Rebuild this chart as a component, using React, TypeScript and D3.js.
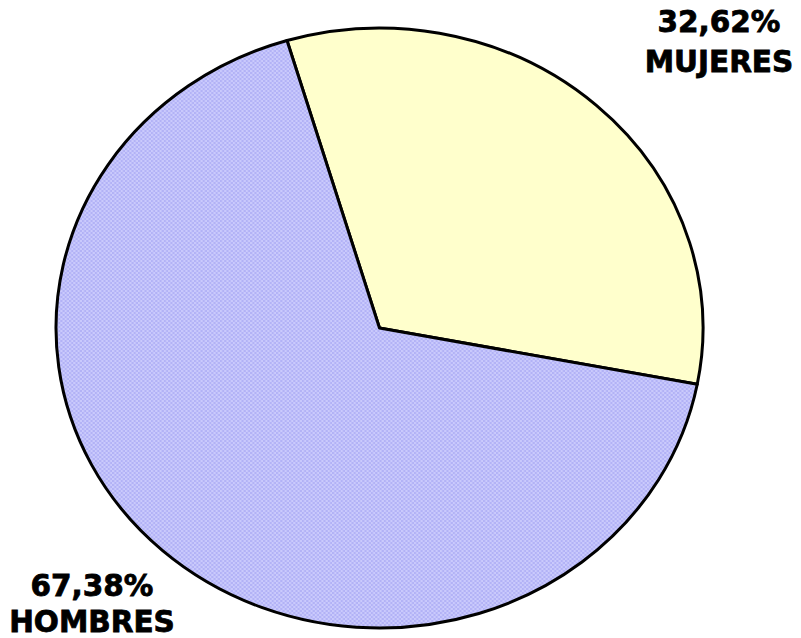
import React from 'react';
import * as d3 from 'd3';

const categories = ['MUJERES', 'HOMBRES'];
const values = [32.62, 67.38];
const valueLabels = ['32,62%', '67,38%'];

const W = 801;
const H = 638;
const cx = 379.5;
const cy = 328;
const rx = 323.5;
const ry = 300;

export default function App() {
  const pieFn = d3
    .pie<number>()
    .sort(null)
    .startAngle(-0.29)
    .endAngle(-0.29 + 2 * Math.PI);
  const arcFn = d3.arc<d3.PieArcDatum<number>>().innerRadius(0).outerRadius(ry);
  const slices = pieFn(values);
  const fills = ['#ffffcc', 'url(#hatch)'];

  return (
    <svg
      width={W}
      height={H}
      style={{ position: 'absolute', left: 0, top: 0, background: '#fff' }}
      fontFamily="'DejaVu Sans', Verdana, sans-serif"
    >
      <defs>
        <pattern id="hatch" width={4} height={4} patternUnits="userSpaceOnUse">
          <rect width={4} height={4} fill="#cacafc" />
          <rect x={0} y={0} width={2} height={2} fill="#b2b2f6" />
          <rect x={2} y={2} width={2} height={2} fill="#b2b2f6" />
        </pattern>
      </defs>
      <g transform={`translate(${cx},${cy}) scale(${rx / ry},1)`}>
        {slices.map((s, i) => (
          <path
            key={categories[i]}
            d={arcFn(s) || ''}
            fill={fills[i]}
            stroke="#000"
            strokeWidth={3}
            strokeLinejoin="round"
            vectorEffect="non-scaling-stroke"
          />
        ))}
      </g>
      <g
        fontWeight="bold"
        fontSize={29.5}
        textAnchor="middle"
        fill="#000"
        stroke="#000"
        strokeWidth={0.8}
      >
        <text x={719} y={32}>{valueLabels[0]}</text>
        <text x={719} y={72}>{categories[0]}</text>
        <text x={92} y={596}>{valueLabels[1]}</text>
        <text x={92} y={632}>{categories[1]}</text>
      </g>
    </svg>
  );
}
